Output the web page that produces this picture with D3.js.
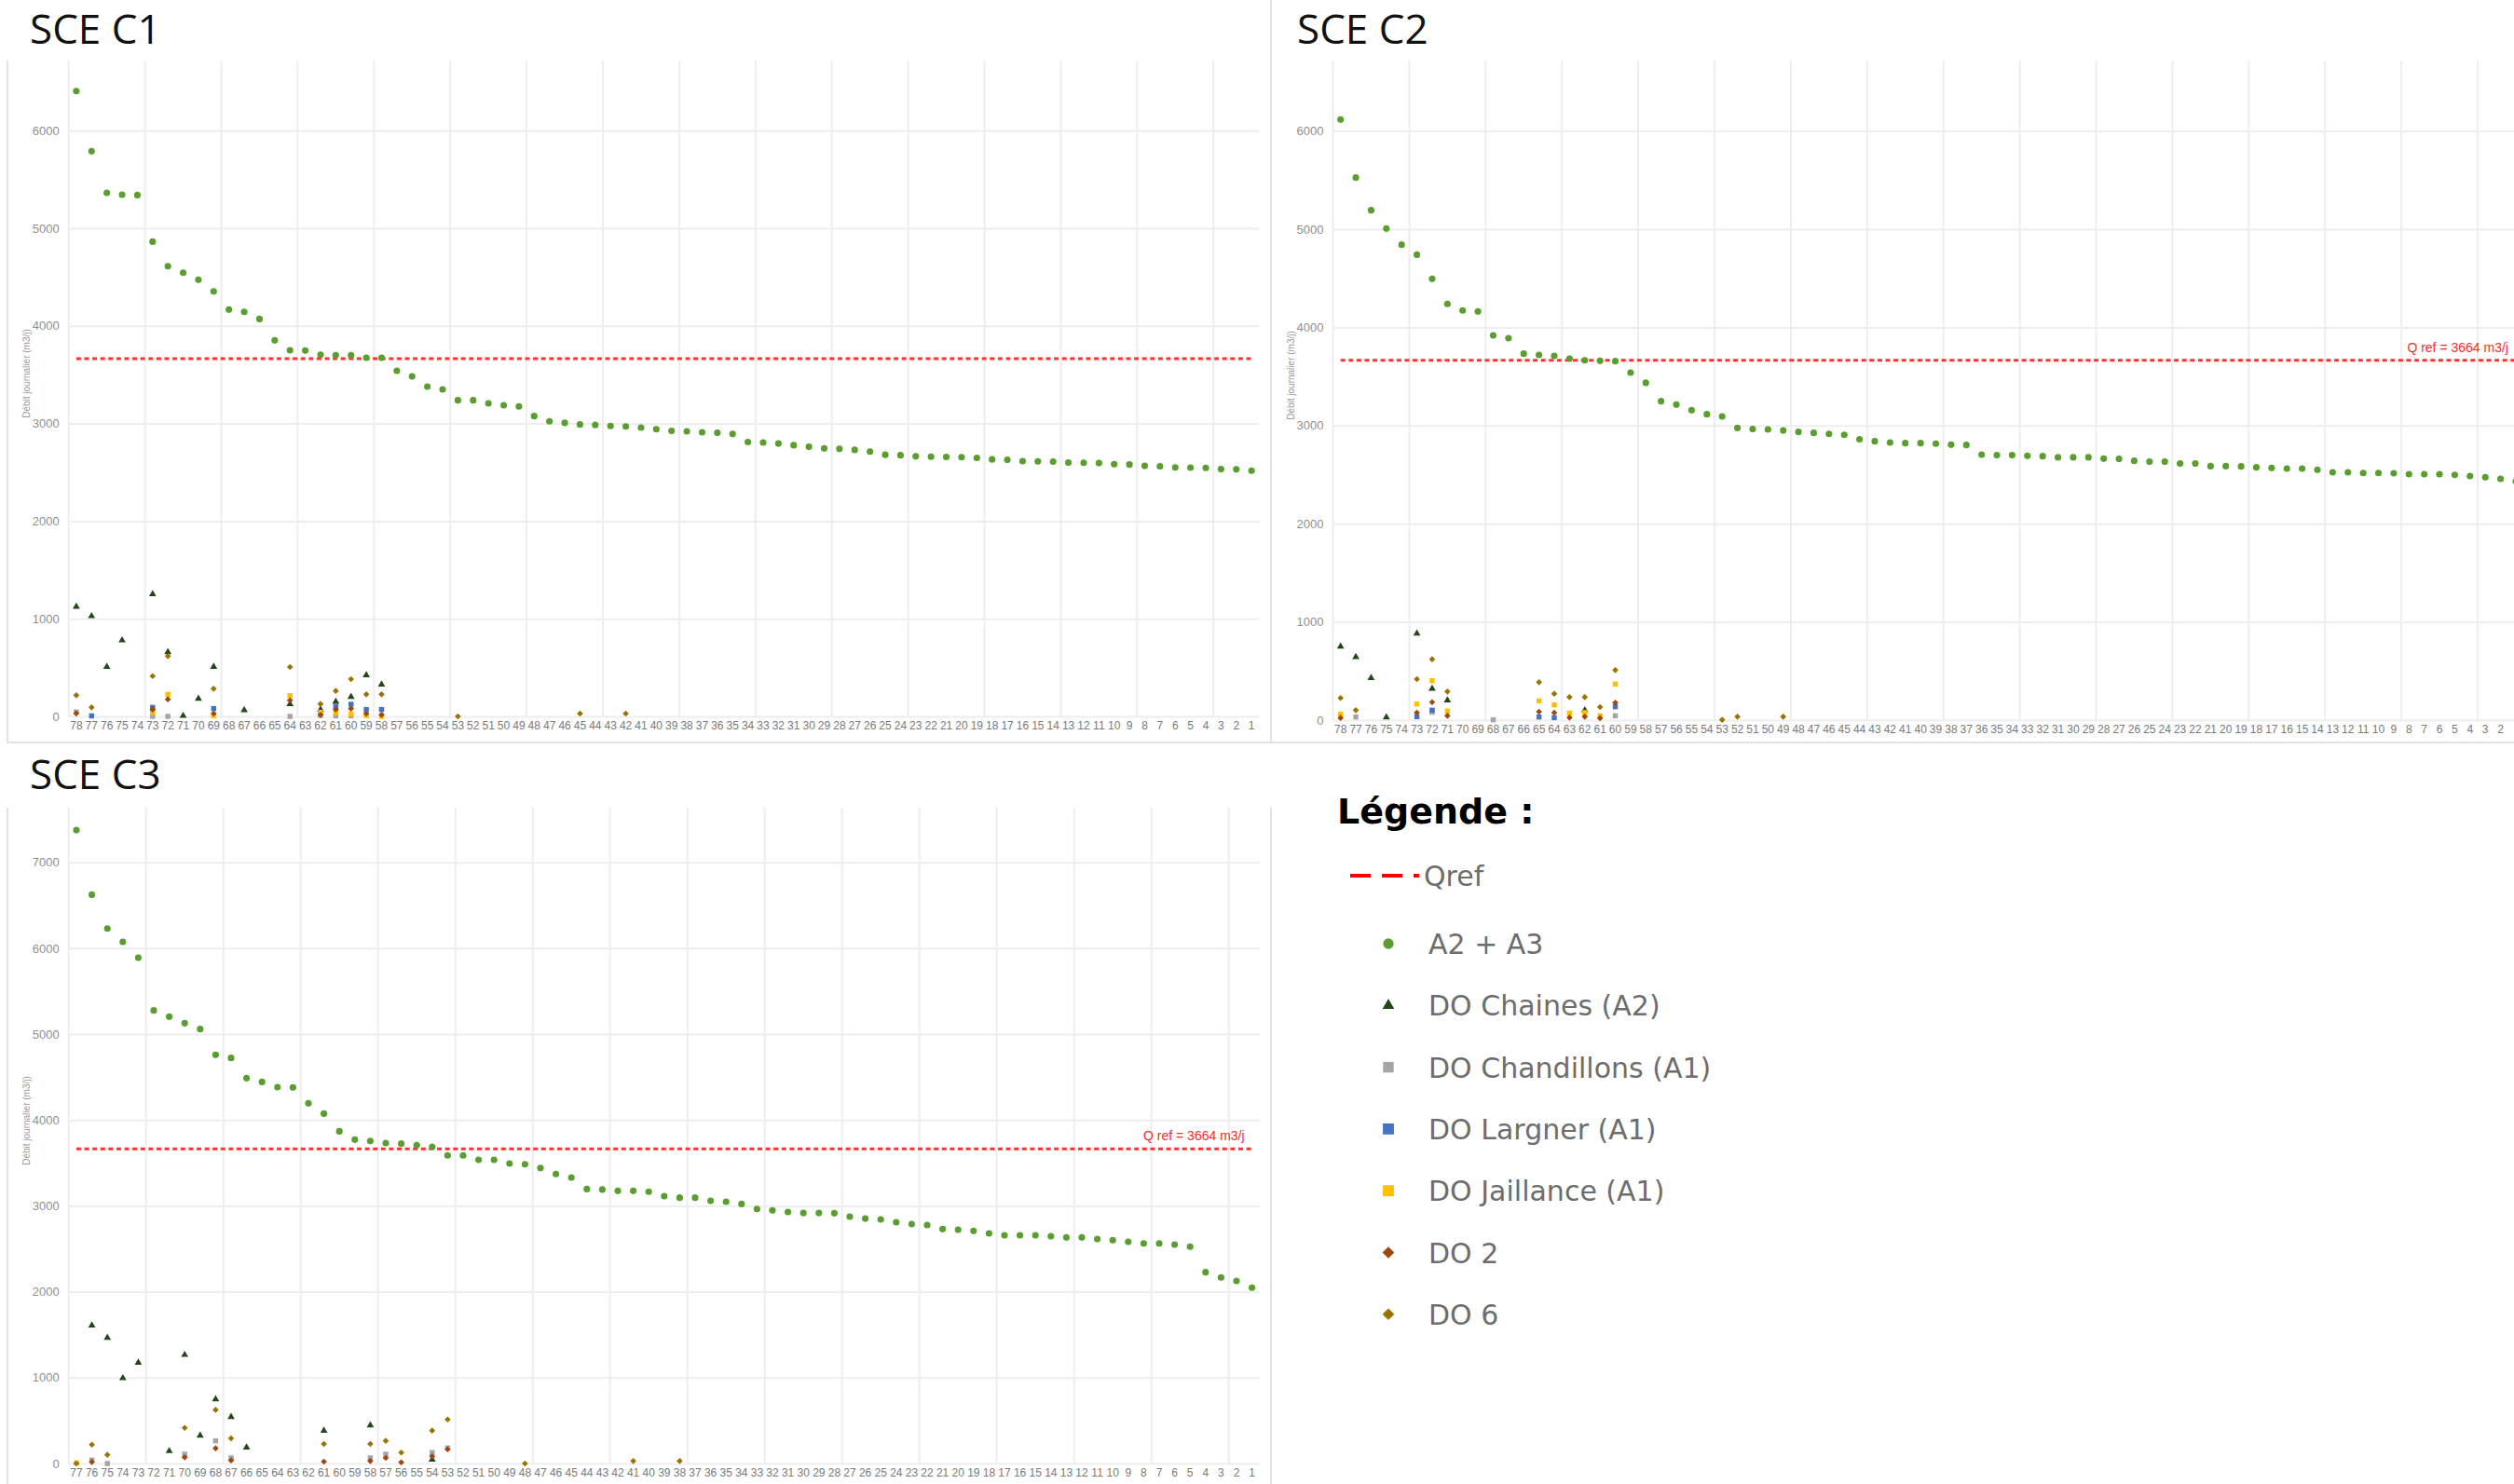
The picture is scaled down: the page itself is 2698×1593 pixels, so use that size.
<!DOCTYPE html>
<html>
<head>
<meta charset="utf-8">
<script src="https://cdn.jsdelivr.net/npm/d3@7"></script>
<style>
  body { margin: 0; background: #fff; }
  svg { display: block; }
</style>
</head>
<body>
<script>
// categories (x tick labels), read right to left on the charts
const catsC1 = d3.range(78, 0, -1);
const catsC2 = d3.range(78, 0, -1);
const catsC3 = d3.range(77, 0, -1);

const ticksC1 = [0, 1000, 2000, 3000, 4000, 5000, 6000];
const ticksC2 = [0, 1000, 2000, 3000, 4000, 5000, 6000];
const ticksC3 = [0, 1000, 2000, 3000, 4000, 5000, 6000, 7000];

const qref = 3664;

// A2 + A3, one value per category (78 -> 1)
const a23C1 = [6405, 5789, 5363, 5344, 5340, 4863, 4612, 4545, 4472, 4354, 4167, 4144, 4071, 3852, 3750, 3747,
  3705, 3699, 3699, 3674, 3674, 3540, 3483, 3378, 3349, 3238, 3238, 3206, 3187, 3175, 3076,
  3023, 3007, 2990, 2985, 2975, 2970, 2958, 2942, 2925, 2920, 2910, 2905, 2893, 2810, 2805, 2795,
  2778, 2762, 2745, 2740, 2730, 2713, 2680, 2675, 2664, 2660, 2658, 2655, 2648, 2632, 2628, 2615,
  2612, 2610, 2600, 2598, 2595, 2583, 2580, 2566, 2562, 2550, 2548, 2545, 2533, 2530, 2517];
const a23C2 = [6116, 5525, 5193, 5006, 4842, 4740, 4494, 4238, 4172, 4162, 3918, 3890, 3732, 3719, 3710, 3681,
  3665, 3659, 3656, 3539, 3435, 3248, 3213, 3156, 3115, 3093,
  2975, 2965, 2960, 2950, 2935, 2925, 2915, 2905, 2860,
  2840, 2827, 2821, 2821, 2815, 2805, 2802, 2704, 2698, 2698, 2691, 2688, 2676, 2676, 2676, 2663,
  2660, 2641, 2632, 2632, 2613, 2613, 2586, 2586, 2584, 2574, 2568, 2562, 2562, 2549, 2524, 2524,
  2517, 2517, 2514, 2505, 2505, 2505, 2498, 2486, 2473, 2457, 2432];
const a23C3 = [7375, 6623, 6229, 6074, 5889, 5275, 5203, 5127, 5058, 4758, 4722, 4487, 4443, 4382, 4378, 4194,
  4074, 3868, 3771, 3756, 3731, 3724, 3706, 3688, 3587, 3587, 3536, 3536, 3492, 3485,
  3440, 3370, 3330, 3195, 3190,
  3174, 3174, 3164, 3113, 3095, 3095, 3059, 3048, 3022, 2964, 2947, 2928, 2917, 2917, 2914, 2874,
  2852, 2842, 2809, 2787, 2777, 2730, 2722, 2708, 2679, 2657, 2657, 2657, 2646, 2632, 2632, 2614,
  2600, 2581, 2563, 2563, 2549, 2524, 2227, 2166, 2126, 2047];

// DO series: [category, value], only the points that show
const chainesC1 = [[78, 1123], [77, 1027], [76, 509], [75, 779], [73, 1253], [72, 658], [71, 6], [70, 181],
  [69, 509], [67, 64], [64, 127], [62, 70], [61, 150], [60, 200], [59, 423], [58, 327]];
const chandC1 = [[78, 45], [73, 0], [72, 0], [64, 0], [62, 10], [61, 5], [60, 5]];
const largnerC1 = [[77, 5], [73, 92], [69, 80], [62, 45], [61, 102], [60, 124], [59, 70], [58, 70]];
const jaillC1 = [[73, 40], [72, 225], [69, 5], [64, 213], [62, 40], [61, 40], [60, 24], [59, 8], [58, 0]];
const do2C1 = [[78, 30], [73, 70], [72, 175], [69, 29], [64, 165], [62, 16], [61, 70], [60, 80], [59, 29], [58, 16]];
const do6C1 = [[78, 216], [77, 92], [73, 413], [72, 617], [69, 283], [64, 506], [62, 127], [61, 261], [60, 382],
  [59, 226], [58, 226], [53, 0], [45, 29], [42, 29]];

const chainesC2 = [[78, 750], [77, 642], [76, 430], [75, 28], [73, 882], [72, 320], [71, 202], [62, 101]];
const chandC2 = [[77, 32], [72, 80], [68, 3], [60, 44]];
const largnerC2 = [[73, 35], [72, 101], [65, 32], [64, 25], [60, 136]];
const jaillC2 = [[78, 60], [73, 164], [72, 401], [71, 92], [65, 196], [64, 155], [63, 70], [62, 76], [61, 44], [60, 367]];
const do2C2 = [[78, 22], [73, 76], [72, 183], [71, 44], [65, 85], [64, 76], [63, 25], [62, 35], [61, 20], [60, 177]];
const do6C2 = [[78, 225], [77, 101], [73, 417], [72, 620], [71, 291], [65, 386], [64, 269], [63, 234], [62, 234],
  [61, 133], [60, 509], [53, 3], [52, 35], [49, 35]];

const chainesC3 = [[76, 1609], [75, 1464], [74, 994], [73, 1175], [71, 145], [70, 1265], [69, 325], [68, 748],
  [67, 542], [66, 188], [61, 383], [58, 445], [54, 47]];
const chandC3 = [[76, 40], [75, 0], [70, 108], [68, 264], [67, 65], [58, 65], [57, 108], [54, 127], [53, 181]];
const largnerC3 = [];
const jaillC3 = [[77, 8]];
const do2C3 = [[76, 18], [70, 72], [68, 177], [67, 36], [61, 22], [58, 29], [57, 65], [56, 14], [54, 83], [53, 166]];
const do6C3 = [[77, 0], [76, 220], [75, 101], [70, 415], [68, 625], [67, 293], [61, 228], [58, 228], [57, 264],
  [56, 127], [54, 383], [53, 513], [48, 0], [41, 29], [38, 29]];

const series = [
  { key : 'a23',     name : 'A2 + A3',             type : d3.symbolCircle,   size : 40, legSize : 100, rot : 0,  color : '#5a9e2f' },
  { key : 'chaines', name : 'DO Chaines (A2)',     type : d3.symbolTriangle, size : 26, legSize : 70,  rot : 0,  color : '#24461b' },
  { key : 'chand',   name : 'DO Chandillons (A1)', type : d3.symbolSquare,   size : 30, legSize : 130, rot : 0,  color : '#a5a5a5' },
  { key : 'largner', name : 'DO Largner (A1)',     type : d3.symbolSquare,   size : 30, legSize : 140, rot : 0,  color : '#4472c4' },
  { key : 'jaill',   name : 'DO Jaillance (A1)',   type : d3.symbolSquare,   size : 30, legSize : 140, rot : 0,  color : '#ffc000' },
  { key : 'do2',     name : 'DO 2',                type : d3.symbolSquare,   size : 22, legSize : 80,  rot : 45, color : '#9e480e' },
  { key : 'do6',     name : 'DO 6',                type : d3.symbolSquare,   size : 22, legSize : 80,  rot : 45, color : '#997300' }
];

const panels = [
  { title : 'SCE C1', cats : catsC1, ticks : ticksC1,
    a23 : a23C1, chaines : chainesC1, chand : chandC1, largner : largnerC1, jaill : jaillC1, do2 : do2C1, do6 : do6C1,
    tx : 32, ty : 47, x0 : 73.7, bw : 16.38, y0 : 769, top : 65, yMax : 6718, ytx : 28, qrefLabel : false },
  { title : 'SCE C2', cats : catsC2, ticks : ticksC2,
    a23 : a23C2, chaines : chainesC2, chand : chandC2, largner : largnerC2, jaill : jaillC2, do2 : do2C2, do6 : do6C2,
    tx : 1392, ty : 47, x0 : 1430.5, bw : 16.38, y0 : 773, top : 65, yMax : 6717, ytx : 1385, qrefLabel : true },
  { title : 'SCE C3', cats : catsC3, ticks : ticksC3,
    a23 : a23C3, chaines : chainesC3, chand : chandC3, largner : largnerC3, jaill : jaillC3, do2 : do2C3, do6 : do6C3,
    tx : 32, ty : 847, x0 : 73.7, bw : 16.6, y0 : 1571, top : 867, yMax : 7636, ytx : 28, qrefLabel : true }
];

const width = 2698;
const height = 1593;
const svg = d3.select('body').append('svg')
  .attr('width', width)
  .attr('height', height);

const gridColor = '#eeeeee';
const smallFont = '"Liberation Sans Narrow", "Arial Narrow", "Liberation Sans", sans-serif';

// panel frames
const frame = svg.append('g')
  .attr('stroke', '#e2e2e2')
  .attr('stroke-width', 2)
  .attr('fill', 'none');
frame.append('path').attr('d', 'M8,65V797H2698');
frame.append('path').attr('d', 'M1364,0V797');
frame.append('path').attr('d', 'M8,867V1593M1364,867V1593');

function marker(s, big) {
  return d3.symbol().type(s.type).size(big ? s.legSize : s.size)();
}

function drawPanel(p) {
  const g = svg.append('g');
  const x = d3.scaleBand()
    .domain(p.cats)
    .range([p.x0, p.x0 + p.cats.length * p.bw]);
  const y = d3.scaleLinear()
    .domain([0, p.yMax])
    .range([p.y0, p.top]);
  const x1 = x.range()[1];

  // horizontal grid + y labels
  g.append('g')
    .attr('transform', `translate(${p.x0},0)`)
    .call(d3.axisLeft(y).tickValues(p.ticks).tickFormat(d3.format('d')).tickSize(-(x1 - p.x0)).tickPadding(10))
    .call(a => a.select('.domain').remove())
    .call(a => a.selectAll('line').attr('stroke', gridColor).attr('stroke-width', 2))
    .call(a => a.selectAll('text')
      .attr('fill', '#8f8f8f')
      .style('font-family', smallFont)
      .style('font-size', '13px'));

  // vertical grid every 5 categories
  g.append('g')
    .selectAll('line')
    .data(p.cats.filter((d, i) => i % 5 === 0))
    .enter()
    .append('line')
    .attr('x1', d => x(d))
    .attr('x2', d => x(d))
    .attr('y1', p.top)
    .attr('y2', p.y0)
    .attr('stroke', gridColor)
    .attr('stroke-width', 2);

  // x labels (the ones past the page edge are dropped, as in the cropped original)
  const xVisible = p.cats.filter(d => x(d) + x.bandwidth() / 2 + 4 < width);
  g.append('g')
    .attr('transform', `translate(0,${p.y0})`)
    .call(d3.axisBottom(x).tickValues(xVisible).tickSize(0).tickPadding(5))
    .call(a => a.select('.domain').remove())
    .call(a => a.selectAll('text')
      .attr('fill', '#7a7a7a')
      .style('font-family', smallFont)
      .style('font-size', '12px'));

  // title and y title
  g.append('text')
    .attr('x', p.tx)
    .attr('y', p.ty)
    .attr('fill', '#111')
    .style('font-family', '"Open Sans", sans-serif')
    .style('font-size', '44px')
    .text(p.title);

  const ym = (p.top + p.y0) / 2 - 16;
  g.append('text')
    .attr('transform', `translate(${p.ytx},${ym}) rotate(-90)`)
    .attr('text-anchor', 'middle')
    .attr('dy', '0.35em')
    .attr('fill', '#9a9a9a')
    .style('font-family', '"Liberation Sans", sans-serif')
    .style('font-size', '10px')
    .text('Débit journalier (m3/j)');

  // Qref
  const qx1 = x(p.cats[0]) + x.bandwidth() / 2;
  const qx2 = x(p.cats[p.cats.length - 1]) + x.bandwidth() / 2;
  g.append('line')
    .attr('x1', qx1)
    .attr('x2', qx2)
    .attr('y1', y(qref))
    .attr('y2', y(qref))
    .attr('stroke', '#ff3030')
    .attr('stroke-width', 3)
    .attr('stroke-dasharray', '5,3.6');
  if (p.qrefLabel) {
    g.append('text')
      .attr('x', qx2 - 8)
      .attr('y', y(qref) - 9)
      .attr('text-anchor', 'end')
      .attr('fill', '#ff2a2a')
      .style('font-family', smallFont)
      .style('font-size', '14px')
      .text(`Q ref = ${qref} m3/j`);
  }

  // points
  series.forEach(s => {
    const pts = s.key === 'a23'
      ? p.cats.map((c, i) => [c, p.a23[i]])
      : p[s.key];
    g.append('g')
      .selectAll('path')
      .data(pts)
      .enter()
      .append('path')
      .attr('d', marker(s, false))
      .attr('transform', d => `translate(${x(d[0]) + x.bandwidth() / 2},${y(d[1])}) rotate(${s.rot})`)
      .attr('fill', s.color);
  });
}

panels.forEach(drawPanel);

// legend
const leg = svg.append('g');
leg.append('text')
  .attr('x', 1435)
  .attr('y', 884)
  .attr('fill', '#000')
  .style('font-family', '"DejaVu Sans", sans-serif')
  .style('font-weight', 'bold')
  .style('font-size', '38px')
  .text('Légende :');

leg.append('line')
  .attr('x1', 1449)
  .attr('x2', 1523)
  .attr('y1', 940)
  .attr('y2', 940)
  .attr('stroke', '#ff0000')
  .attr('stroke-width', 4)
  .attr('stroke-dasharray', '22,12');
leg.append('text')
  .attr('x', 1528)
  .attr('y', 951)
  .attr('fill', '#6d6d6d')
  .style('font-family', '"DejaVu Sans", sans-serif')
  .style('font-size', '30px')
  .text('Qref');

const item = leg.selectAll('.Item')
  .data(series)
  .enter()
  .append('g')
  .attr('class', 'Item')
  .attr('transform', (d, i) => `translate(0,${1013 + i * 66.3})`);

item.append('path')
  .attr('d', d => marker(d, true))
  .attr('transform', d => `translate(1490,0) rotate(${d.rot})`)
  .attr('fill', d => d.color);

item.append('text')
  .attr('x', 1533)
  .attr('y', 11)
  .attr('fill', '#6d6d6d')
  .style('font-family', '"DejaVu Sans", sans-serif')
  .style('font-size', '30px')
  .text(d => d.name);
</script>
</body>
</html>
